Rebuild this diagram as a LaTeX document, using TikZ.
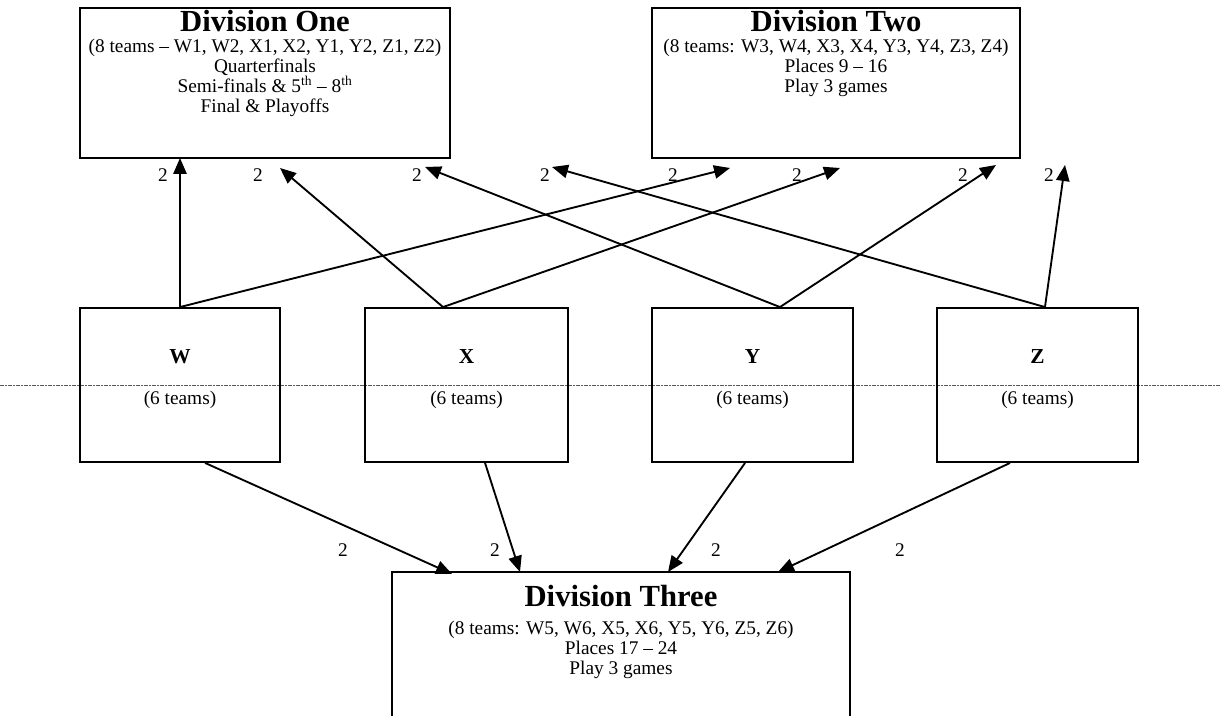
\documentclass[tikz,border=0pt]{standalone}
\usepackage{fontspec}
\setmainfont{Liberation Serif}
\usetikzlibrary{positioning}
\usetikzlibrary{arrows.meta}

\begin{document}
\begin{tikzpicture}[x=0.75pt,y=-0.75pt,every node/.style={align=center,inner sep=0pt},
box/.style={draw,line width=1.4pt},
head/.style={font=\fontsize{23}{26}\selectfont\bfseries},
info/.style={font=\fontsize{14.5}{15}\selectfont},
grp/.style={font=\fontsize{16}{18}\selectfont\bfseries},
arr/.style={line width=1.4pt,-{Triangle[length=12pt,width=10pt]}},
cut/.style={line width=0.6pt,gray!70!black,dash pattern=on 3pt off 1pt on 1pt off 1pt}]
\clip (0,0) rectangle (1220,716);
\fill[white] (0,0) rectangle (1220,716);

% top divisions
\node[box,minimum width=277.5pt,minimum height=112.5pt] (one) at (265,83) {};
\node[head,below=2.5pt of one.north] (onehead) {Division One};
\node[info,below=4.5pt of onehead] (oneinfo) {(8 teams -- W1, W2, X1, X2, Y1, Y2, Z1, Z2)\\Quarterfinals\\Semi-finals \& 5\textsuperscript{th} -- 8\textsuperscript{th}\\Final \& Playoffs};
\node[box,minimum width=276pt,minimum height=112.5pt] (two) at (836,83) {};
\node[head,below=2.5pt of two.north] (twohead) {Division Two};
\node[info,below=4.5pt of twohead] (twoinfo) {(8 teams: W3, W4, X3, X4, Y3, Y4, Z3, Z4)\\Places 9 -- 16\\Play 3 games};

% pools
\coordinate (cutl) at (0,385);
\coordinate (cutr) at (1220,385);
\draw[cut] (cutl) -- (cutr);
\node[box,minimum width=150pt,minimum height=115.5pt] (w) at (180,385) {};
\node[box,minimum width=152pt,minimum height=115.5pt] (x) at (466.5,385) {};
\node[box,minimum width=151pt,minimum height=115.5pt] (y) at (752.5,385) {};
\node[box,minimum width=151pt,minimum height=115.5pt] (z) at (1037.5,385) {};
\node[grp] (wname) at ([yshift=21pt]w.center) {W};
\node[grp] (xname) at ([yshift=21pt]x.center) {X};
\node[grp] (yname) at ([yshift=21pt]y.center) {Y};
\node[grp] (zname) at ([yshift=21pt]z.center) {Z};
\node[info] (wsize) at ([yshift=-11pt]w.center) {(6 teams)};
\node[info] (xsize) at ([yshift=-11pt]x.center) {(6 teams)};
\node[info] (ysize) at ([yshift=-11pt]y.center) {(6 teams)};
\node[info] (zsize) at ([yshift=-11pt]z.center) {(6 teams)};

% bottom division
\node[box,minimum width=343.5pt,minimum height=150pt] (three) at (621,672) {};
\node[head,below=10.5pt of three.north] (threehead) {Division Three};
\node[info,below=10pt of threehead] (threeinfo) {(8 teams: W5, W6, X5, X6, Y5, Y6, Z5, Z6)\\Places 17 -- 24\\Play 3 games};

% where the arrows leave the pools
\coordinate (xt) at ([xshift=-17.6pt]x.north);
\coordinate (yt) at ([xshift=20.6pt]y.north);
\coordinate (zt) at ([xshift=5.6pt]z.north);
\coordinate (wb) at ([xshift=18.8pt]w.south);
\coordinate (xb) at ([xshift=13.9pt]x.south);
\coordinate (yb) at ([xshift=-5.6pt]y.south);
\coordinate (zb) at ([xshift=-20.6pt]z.south);
% where they arrive
\coordinate (one1) at (180,158);
\coordinate (one2) at (280,168);
\coordinate (one3) at (425,167);
\coordinate (one4) at (552,167);
\coordinate (two1) at (730,168);
\coordinate (two2) at (840,168);
\coordinate (two3) at (996,165);
\coordinate (two4) at (1065,165);
\coordinate (three1) at (452,574);
\coordinate (three2) at (520,572);
\coordinate (three3) at (668,572);
\coordinate (three4) at (778,572);

\draw[arr] (w.north) -- (one1);
\draw[arr] (w.north) -- (two1);
\draw[arr] (xt) -- (one2);
\draw[arr] (xt) -- (two2);
\draw[arr] (yt) -- (one3);
\draw[arr] (yt) -- (two3);
\draw[arr] (zt) -- (one4);
\draw[arr] (zt) -- (two4);
\draw[arr] (wb) -- (three1);
\draw[arr] (xb) -- (three2);
\draw[arr] (yb) -- (three3);
\draw[arr] (zb) -- (three4);

\node[info] (c1) at (163,175) {2};
\node[info] (c2) at (258,175) {2};
\node[info] (c3) at (417,175) {2};
\node[info] (c4) at (545,175) {2};
\node[info] (c5) at (673,175) {2};
\node[info] (c6) at (797,175) {2};
\node[info] (c7) at (963,175) {2};
\node[info] (c8) at (1049,175) {2};
\node[info] (c9) at (343,550) {2};
\node[info] (c10) at (495,550) {2};
\node[info] (c11) at (716,550) {2};
\node[info] (c12) at (900,550) {2};
\end{tikzpicture}
\end{document}
